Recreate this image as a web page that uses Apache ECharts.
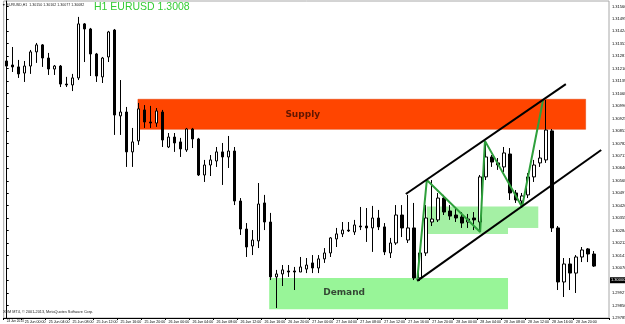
<!DOCTYPE html>
<html><head><meta charset="utf-8">
<script src="https://cdn.jsdelivr.net/npm/echarts@6/dist/echarts.min.js"></script>
<style>html,body{margin:0;padding:0;background:#fff}#c{width:625px;height:324px}</style>
</head><body><div id="c"></div>
<script>
// H1 bars, 24 Jun 2013 21:00 .. 28 Jun 2013 23:00
const opens = [1.31254,1.31231,1.31220,1.31185,1.31225,1.31306,1.31346,1.31271,1.31208,1.31225,
1.31122,1.31117,1.31157,1.31466,1.31437,1.31294,1.31163,1.31277,1.31431,1.30940,
1.30962,1.30734,1.30797,1.30974,1.30905,1.30899,1.30962,1.30762,1.30819,1.30791,
1.30745,1.30865,1.30808,1.30602,1.30659,1.30682,1.30734,1.30705,1.30739,1.30453,
1.30293,1.30196,1.30225,1.30442,1.30333,1.30019,1.30036,1.30053,1.30053,1.30047,
1.30064,1.30099,1.30070,1.30122,1.30156,1.30236,1.30265,1.30287,1.30276,1.30310,
1.30310,1.30299,1.30356,1.30305,1.30156,1.30213,1.30373,1.30230,1.30299,1.30013,
1.30156,1.30333,1.30345,1.30470,1.30396,1.30373,1.30362,1.30333,1.30356,1.30333,
1.30591,1.30705,1.30671,1.30648,1.30722,1.30499,1.30453,1.30488,1.30591,1.30671,
1.30688,1.30854,1.30299,1.29990,1.30093,1.30041,1.30133,1.30179,1.30150];
const closes = [1.31225,1.31220,1.31180,1.31225,1.31306,1.31346,1.31271,1.31208,1.31225,1.31122,
1.31117,1.31157,1.31466,1.31437,1.31294,1.31168,1.31271,1.31420,1.30945,1.30962,
1.30734,1.30791,1.30980,1.30905,1.30899,1.30968,1.30802,1.30819,1.30785,1.30751,
1.30865,1.30808,1.30602,1.30659,1.30688,1.30734,1.30705,1.30739,1.30453,1.30293,
1.30190,1.30230,1.30436,1.30333,1.30019,1.30036,1.30059,1.30047,1.30047,1.30076,
1.30087,1.30070,1.30122,1.30156,1.30242,1.30265,1.30287,1.30282,1.30316,1.30305,
1.30299,1.30356,1.30305,1.30162,1.30213,1.30373,1.30299,1.30299,1.30013,1.30156,
1.30356,1.30350,1.30470,1.30390,1.30367,1.30356,1.30327,1.30350,1.30345,1.30591,
1.30705,1.30676,1.30659,1.30728,1.30499,1.30459,1.30482,1.30591,1.30659,1.30699,
1.30859,1.30299,1.29990,1.30093,1.30041,1.30133,1.30173,1.30150,1.30081];
const lows = [1.31220,1.31191,1.31157,1.31134,1.31180,1.31243,1.31220,1.31174,1.31174,1.31105,
1.31105,1.31082,1.31145,1.31248,1.31168,1.31134,1.31128,1.31248,1.30831,1.30831,
1.30648,1.30648,1.30774,1.30871,1.30871,1.30877,1.30762,1.30756,1.30734,1.30705,
1.30734,1.30756,1.30596,1.30562,1.30596,1.30648,1.30545,1.30642,1.30430,1.30259,
1.30133,1.30144,1.30184,1.30287,1.30001,1.29841,1.29967,1.30019,1.29944,1.30047,
1.30041,1.30041,1.30041,1.30099,1.30133,1.30190,1.30247,1.30276,1.30259,1.30287,
1.30219,1.30162,1.30287,1.30144,1.30127,1.30202,1.30247,1.30213,1.30001,1.29996,
1.30139,1.30310,1.30333,1.30373,1.30345,1.30333,1.30299,1.30299,1.30287,1.30276,
1.30573,1.30648,1.30631,1.30619,1.30459,1.30442,1.30413,1.30470,1.30562,1.30648,
1.30671,1.30276,1.29944,1.29904,1.29944,1.29927,1.30104,1.30104,1.30076];
const highs = [1.31431,1.31334,1.31260,1.31254,1.31317,1.31357,1.31351,1.31300,1.31231,1.31231,
1.31163,1.31180,1.31506,1.31471,1.31443,1.31300,1.31277,1.31426,1.31437,1.31145,
1.30991,1.30871,1.31014,1.31002,1.30997,1.30985,1.30974,1.30842,1.30842,1.30814,
1.30871,1.30871,1.30814,1.30688,1.30716,1.30762,1.30785,1.30825,1.30762,1.30470,
1.30327,1.30287,1.30556,1.30488,1.30385,1.30059,1.30087,1.30087,1.30076,1.30133,
1.30127,1.30144,1.30144,1.30184,1.30247,1.30299,1.30333,1.30333,1.30345,1.30419,
1.30413,1.30425,1.30402,1.30327,1.30242,1.30430,1.30430,1.30488,1.30442,1.30173,
1.30430,1.30573,1.30499,1.30488,1.30430,1.30413,1.30390,1.30379,1.30390,1.30602,
1.30797,1.30716,1.30699,1.30762,1.30756,1.30516,1.30499,1.30613,1.30688,1.30745,
1.31031,1.30865,1.30310,1.30127,1.30127,1.30144,1.30190,1.30184,1.30167];

const yTickValues = [1.29785,1.29856,1.29927,1.29998,1.30070,1.30141,1.30212,1.30284,1.30355,1.30426,
1.30497,1.30568,1.30640,1.30711,1.30782,1.30853,1.30925,1.30996,1.31068,1.31139,1.31210,1.31281,
1.31353,1.31424,1.31495,1.31566];
const firstTickLabel = '24 Jun 2013';
const startDay = 24, startHour = 21, slotCount = 101;

// zones: [fromBar, toBar, lowPrice, highPrice]
const supplyZone = [21.9, 96.6, 1.30863, 1.31035];
const demandZone = [43.8, 83.65, 1.29834, 1.30013];
const zoneA = [70.1, 83.65, 1.30265, 1.30422];
const zoneB = [83.65, 88.7, 1.30299, 1.30422];
// drawn lines: [bar, price]
const upperChannel = [[66.6, 1.30493], [93.3, 1.31122]];
const lowerChannel = [[68.5, 1.29996], [99.2, 1.30745]];
const zigzag = [[68.5,1.30001],[70.1,1.30573],[79.0,1.30276],[79.8,1.30797],[86.0,1.30419],[89.5,1.31031]];
const supplyText = [49.4, 1.30945];
const demandText = [56.3, 1.29927];

const cats = [];
for (let i = 0; i < slotCount; i++) {
  const t = startHour + i;
  const d = startDay + Math.floor(t / 24), h = t % 24;
  cats.push(d + ' Jun ' + String(h).padStart(2, '0') + ':00');
}
const candleData = opens.map((o, i) => [o, closes[i], lows[i], highs[i]]);
const showTick = (i) => i === 0 || (i % 4 === 3 && i <= 95);
const font = 'Liberation Sans';

const chart = echarts.init(document.getElementById('c'), null, {renderer: 'canvas'});
chart.setOption({
  animation: false,
  backgroundColor: '#fff',
  grid: {left: 3.7, right: 16, top: 1, bottom: 6, show: true, borderColor: '#a8a8a8', borderWidth: 1, backgroundColor: '#fff',
    outerBoundsMode: 'none', containLabel: false},
  xAxis: [{
    type: 'category', data: cats, boundaryGap: true,
    axisLine: {show: true, lineStyle: {color: '#000', width: 1}},
    axisTick: {show: true, interval: (i) => showTick(i), length: 2, lineStyle: {color: '#000'}},
    axisLabel: {show: true, interval: (i) => showTick(i), align: 'left', margin: 1.5, fontSize: 3.6, color: '#000', fontFamily: font,
      hideOverlap: false, showMinLabel: true, showMaxLabel: true,
      formatter: (v, i) => i === 0 ? '{f|' + firstTickLabel + '}' : v,
      rich: {f: {fontSize: 3.1, color: '#000', fontFamily: font}}},
    splitLine: {show: false}
  }, {
    type: 'value', min: -0.5, max: slotCount - 0.5, show: false
  }],
  yAxis: [{
    type: 'value', position: 'right', min: 1.29784, max: 1.31597, scale: true,
    axisLine: {show: true, lineStyle: {color: '#000', width: 1}},
    axisTick: {show: true, length: 2, customValues: yTickValues, lineStyle: {color: '#000'}},
    axisLabel: {show: true, customValues: yTickValues, margin: 3, fontSize: 4, color: '#000', fontFamily: font,
      formatter: (v) => v.toFixed(5)},
    splitLine: {show: false}
  }],
  series: [
    {
      type: 'line', xAxisIndex: 1, yAxisIndex: 0, z: 1, silent: true,
      data: [[-5, 1.3]], showSymbol: false, lineStyle: {opacity: 0},
      markArea: {silent: true, label: {show: false}, data: [
        [{coord: [supplyZone[0], supplyZone[3]], itemStyle: {color: '#ff4500', borderColor: '#e03c00', borderWidth: 0.5}}, {coord: [supplyZone[1], supplyZone[2]]}],
        [{coord: [demandZone[0], demandZone[3]], itemStyle: {color: '#98f598'}}, {coord: [demandZone[1], demandZone[2]]}],
        [{coord: [zoneA[0], zoneA[3]], itemStyle: {color: '#a4f0a4'}}, {coord: [zoneA[1], zoneA[2]]}],
        [{coord: [zoneB[0], zoneB[3]], itemStyle: {color: '#a4f0a4'}}, {coord: [zoneB[1], zoneB[2]]}]
      ]}
    },
    {
      type: 'candlestick', xAxisIndex: 0, yAxisIndex: 0, z: 3, data: candleData, barWidth: 3,
      itemStyle: {color: '#fff', color0: '#000', borderColor: '#000', borderColor0: '#000', borderWidth: 1},
      markLine: {
        silent: true, symbol: ['none', 'none'],
        lineStyle: {color: 'transparent', width: 0},
        label: {show: true, position: 'end', distance: 1, formatter: (p) => Number(p.value).toFixed(5),
          backgroundColor: '#000', color: '#fff', fontSize: 4, padding: [1, 1], fontFamily: font},
        data: [{yAxis: closes[closes.length - 1]}]
      }
    },
    {type: 'line', xAxisIndex: 1, yAxisIndex: 0, z: 6, silent: true, data: upperChannel, showSymbol: false, lineStyle: {color: '#000', width: 2}},
    {type: 'line', xAxisIndex: 1, yAxisIndex: 0, z: 6, silent: true, data: lowerChannel, showSymbol: false, lineStyle: {color: '#000', width: 2}},
    {type: 'line', xAxisIndex: 1, yAxisIndex: 0, z: 5, silent: true, data: zigzag, showSymbol: false, lineStyle: {color: '#2fa03c', width: 2}},
    {type: 'scatter', xAxisIndex: 1, yAxisIndex: 0, z: 7, silent: true, symbolSize: 1, itemStyle: {color: 'transparent'},
      data: [{value: supplyText, name: 'Supply', label: {color: '#3a0a00'}}, {value: demandText, name: 'Demand', label: {color: '#1a1a1a'}}],
      label: {show: true, position: 'inside', formatter: (p) => p.name, fontSize: 9, fontWeight: 'bold', fontFamily: 'DejaVu Sans'}}
  ],
  graphic: [
    {type: 'text', left: 94, top: 2, z: 10, style: {text: 'H1 EURUSD 1.3008', fill: '#33cc33', fontSize: 10.5, fontFamily: font}},
    {type: 'text', left: 2, top: 3, z: 10, style: {text: '\u25BC EURUSD,H1  1.30150 1.30162 1.30077 1.30082', fill: '#222', fontSize: 3.6, fontFamily: font}},
    {type: 'text', left: 3, top: 310, z: 10, style: {text: 'XEM MT4, \u00A9 2001-2013, MetaQuotes Software Corp.', fill: '#222', fontSize: 3.8, fontFamily: font}}
  ]
});
</script>
</body></html>
